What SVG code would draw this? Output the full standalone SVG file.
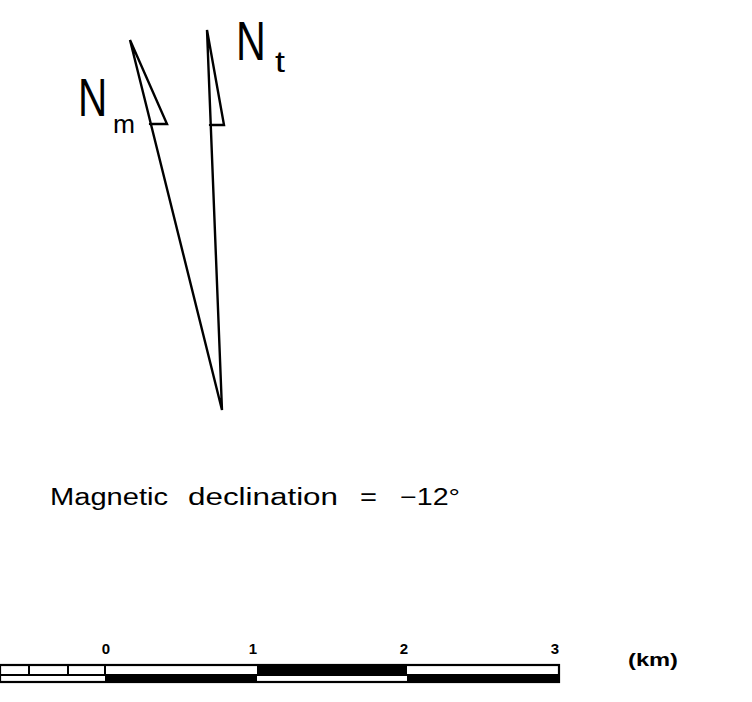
<svg xmlns="http://www.w3.org/2000/svg" width="752" height="702" viewBox="0 0 752 702">
<style>
.ln{fill:none;stroke:#000;stroke-width:2.4;stroke-linejoin:miter;stroke-linecap:round}
.lbl{font-family:"Liberation Sans",Arial,sans-serif;fill:#000}
.dec{font-family:"Liberation Sans",Arial,sans-serif;fill:#000;font-size:23px}
.sc{font-family:"Liberation Sans",Arial,sans-serif;font-weight:bold;font-size:15px;fill:#000;text-anchor:middle}
</style>
<rect width="752" height="702" fill="#fff"/>
<g id="connectors">
<polyline class="ln" points="150,124 167,124 130,40 222,410 207,30 224,125 210,125"/>
</g>
<g id="label-Nm">
<text class="lbl" transform="scale(0.75,1)" x="104" y="116" font-size="54">N</text>
<text class="lbl" x="113" y="133" font-size="26" textLength="22" lengthAdjust="spacingAndGlyphs">m</text>
</g>
<g id="label-Nt">
<text class="lbl" transform="scale(0.75,1)" x="314.7" y="60" font-size="55">N</text>
<text class="lbl" x="275" y="72" font-size="29" textLength="10" lengthAdjust="spacingAndGlyphs">t</text>
</g>
<g id="declination">
<text class="dec" x="50" y="505" textLength="118" lengthAdjust="spacingAndGlyphs">Magnetic</text>
<text class="dec" x="188" y="505" textLength="150" lengthAdjust="spacingAndGlyphs">declination</text>
<text class="dec" x="360" y="505" textLength="17" lengthAdjust="spacingAndGlyphs">=</text>
<text class="dec" x="400" y="505" textLength="60" lengthAdjust="spacingAndGlyphs">−12°</text>
</g>
<g id="scalebar">
<rect x="0" y="665" width="559" height="17" fill="#fff" stroke="#000" stroke-width="2.2"/>
<line x1="0" y1="675" x2="559" y2="675" stroke="#000" stroke-width="2.2"/>
<rect x="257" y="665" width="150" height="10" fill="#000"/>
<rect x="105" y="675" width="152" height="7" fill="#000"/>
<rect x="407" y="675" width="152" height="7" fill="#000"/>
<line x1="29" y1="665" x2="29" y2="675" stroke="#000" stroke-width="2"/>
<line x1="68" y1="665" x2="68" y2="675" stroke="#000" stroke-width="2"/>
<line x1="105" y1="665" x2="105" y2="675" stroke="#000" stroke-width="2"/>
<text class="sc" x="106" y="654">0</text>
<text class="sc" x="253" y="654">1</text>
<text class="sc" x="404" y="654">2</text>
<text class="sc" x="555" y="654">3</text>
<text class="lbl" x="628" y="666" font-size="18" font-weight="bold" textLength="50" lengthAdjust="spacingAndGlyphs">(km)</text>
</g>
</svg>
